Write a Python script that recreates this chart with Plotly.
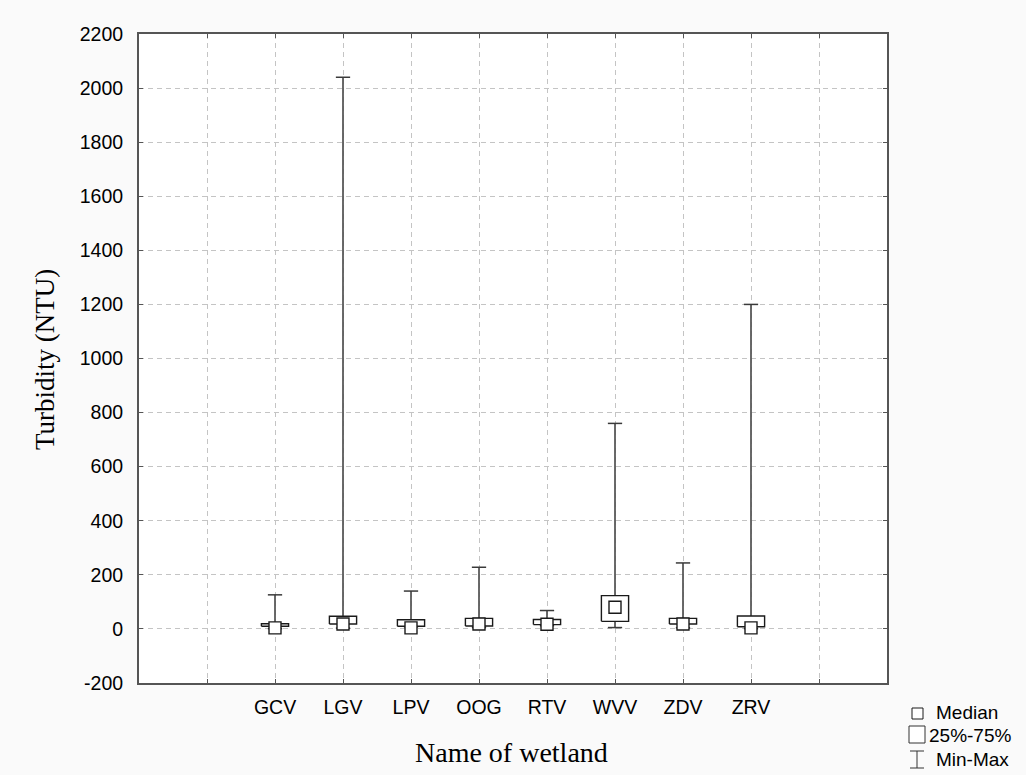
import plotly.graph_objects as go

# Turbidity summary per wetland (NTU)
wetlands = ["GCV", "LGV", "LPV", "OOG", "RTV", "WVV", "ZDV", "ZRV"]
q1_vals = [10, 18, 10, 11, 16, 28, 18, 8]
q3_vals = [19, 47, 34, 39, 35, 123, 39, 48]
median_vals = [4, 18, 4, 18, 17, 80, 18, 4]
min_vals = [1, 3, 8, 6, 12, 5, 4, 1]
max_vals = [126, 2040, 140, 228, 68, 760, 244, 1200]

y_ticks = list(range(-200, 2201, 200))
y_tick_labels = [str(v) for v in y_ticks]  # plain hyphen for negatives

W, H = 1026, 775
L, R, T, B = 139, 887, 34, 683

LINE_DARK = "#1a1a1a"
WHISKER = "#5a5a5a"
FONT_SANS = "Liberation Sans, Arial, sans-serif"
FONT_SERIF = "Liberation Serif, Times New Roman, serif"

box_half = 0.2
cap_half = 0.105

xs = list(range(len(wetlands)))

fig = go.Figure()

# vertical whiskers (min to max)
wx, wy = [], []
for i, lo, hi in zip(xs, min_vals, max_vals):
    wx += [i, i, None]
    wy += [lo, hi, None]
fig.add_trace(go.Scatter(x=wx, y=wy, mode="lines",
                         line=dict(color=WHISKER, width=1.8),
                         hoverinfo="skip", showlegend=False))

# whisker caps
cx, cy = [], []
for i, lo, hi in zip(xs, min_vals, max_vals):
    for v in (lo, hi):
        cx += [i - cap_half, i + cap_half, None]
        cy += [v, v, None]
fig.add_trace(go.Scatter(x=cx, y=cy, mode="lines",
                         line=dict(color="#3a3a3a", width=1.5),
                         hoverinfo="skip", showlegend=False))

# interquartile boxes
for i, a, b in zip(xs, q1_vals, q3_vals):
    fig.add_trace(go.Scatter(
        x=[i - box_half, i + box_half, i + box_half, i - box_half, i - box_half],
        y=[a, a, b, b, a],
        mode="lines", fill="toself", fillcolor="white",
        line=dict(color=LINE_DARK, width=1.4),
        hoverinfo="skip", showlegend=False))

# medians
fig.add_trace(go.Scatter(x=xs, y=median_vals, mode="markers",
                         marker=dict(symbol="square", size=12, color="white",
                                     line=dict(color=LINE_DARK, width=1.4)),
                         hoverinfo="skip", showlegend=False))


def px(xp):
    return (xp - L) / (R - L)


def py(yp):
    return (B - yp) / (B - T)


# legend icons
shapes = [
    dict(type="rect", xref="paper", yref="paper",
         x0=px(912), x1=px(923), y0=py(719), y1=py(708),
         line=dict(color=LINE_DARK, width=1), fillcolor="white"),
    dict(type="rect", xref="paper", yref="paper",
         x0=px(909), x1=px(925), y0=py(743), y1=py(726),
         line=dict(color="#333", width=1), fillcolor="white"),
    dict(type="line", xref="paper", yref="paper",
         x0=px(917), x1=px(917), y0=py(768), y1=py(751),
         line=dict(color="#333", width=1)),
    dict(type="line", xref="paper", yref="paper",
         x0=px(910), x1=px(924), y0=py(751), y1=py(751),
         line=dict(color="#333", width=1)),
    dict(type="line", xref="paper", yref="paper",
         x0=px(910), x1=px(924), y0=py(768), y1=py(768),
         line=dict(color="#333", width=1)),
]

annotations = [
    dict(text="Median", x=px(934), y=py(712), xref="paper", yref="paper",
         xanchor="left", yanchor="middle", showarrow=False,
         font=dict(family=FONT_SANS, size=19, color="black")),
    dict(text="25%-75%", x=px(927), y=py(735), xref="paper", yref="paper",
         xanchor="left", yanchor="middle", showarrow=False,
         font=dict(family=FONT_SANS, size=19, color="black")),
    dict(text="Min-Max", x=px(934), y=py(760), xref="paper", yref="paper",
         xanchor="left", yanchor="middle", showarrow=False,
         font=dict(family=FONT_SANS, size=19, color="black")),
    dict(text="Name of wetland", x=px(511), y=py(752), xref="paper", yref="paper",
         xanchor="center", yanchor="middle", showarrow=False,
         font=dict(family=FONT_SERIF, size=28, color="black")),
    dict(text="Turbidity (NTU)", x=px(45), y=py(360), xref="paper", yref="paper",
         xanchor="center", yanchor="middle", showarrow=False, textangle=-90,
         font=dict(family=FONT_SERIF, size=27, color="black")),
]

tick_positions = list(range(-1, len(wetlands) + 1))
tick_text = [""] + wetlands + [""]

fig.update_layout(
    width=W, height=H,
    margin=dict(l=L, r=W - R, t=T, b=H - B, pad=0),
    paper_bgcolor="#fafafa",
    plot_bgcolor="white",
    showlegend=False,
    shapes=shapes,
    annotations=annotations,
    xaxis=dict(
        range=[-2, len(wetlands) + 1],
        tickmode="array", tickvals=tick_positions, ticktext=tick_text,
        showgrid=True, gridcolor="#c4c4c4", gridwidth=1, griddash="5px,4px",
        zeroline=False,
        showline=True, linecolor="#555", linewidth=2, mirror="ticks",
        ticks="inside", ticklen=4, tickcolor="#555", tickwidth=1,
        tickfont=dict(family=FONT_SANS, size=19.5, color="black"),
        ticklabelstandoff=6,
    ),
    yaxis=dict(
        range=[-200, 2200],
        tickmode="array", tickvals=y_ticks, ticktext=y_tick_labels,
        showgrid=True, gridcolor="#c4c4c4", gridwidth=1, griddash="5px,4px",
        zeroline=False,
        showline=True, linecolor="#555", linewidth=2, mirror="ticks",
        ticks="inside", ticklen=4, tickcolor="#555", tickwidth=1,
        tickfont=dict(family=FONT_SANS, size=19.5, color="black"),
        ticklabelstandoff=10,
    ),
)

fig.write_html("out.html")
